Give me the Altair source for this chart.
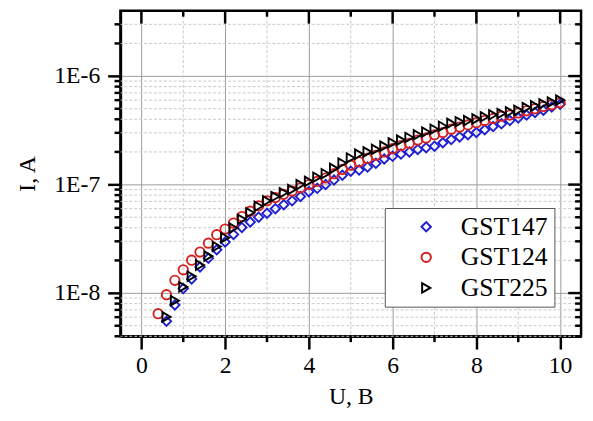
import altair as alt
import pandas as pd

# ---- data ----
u_147 = [0.6, 0.8, 1.0, 1.2, 1.4, 1.6, 1.8, 2.0, 2.2, 2.4, 2.6, 2.8, 3.0, 3.2, 3.4, 3.6, 3.8,
         4.0, 4.2, 4.4, 4.6, 4.8, 5.0, 5.2, 5.4, 5.6, 5.8, 6.0, 6.2, 6.4, 6.6, 6.8, 7.0, 7.2,
         7.4, 7.6, 7.8, 8.0, 8.2, 8.4, 8.6, 8.8, 9.0, 9.2, 9.4, 9.6, 9.8, 10.0]
i_147 = [5.50e-9, 7.76e-9, 1.10e-8, 1.35e-8, 1.74e-8, 2.09e-8, 2.51e-8, 2.95e-8, 3.47e-8,
         4.03e-8, 4.52e-8, 5.01e-8, 5.43e-8, 6.00e-8, 6.53e-8, 7.08e-8, 7.76e-8, 8.61e-8,
         9.23e-8, 1.00e-7, 1.10e-7, 1.22e-7, 1.33e-7, 1.36e-7, 1.45e-7, 1.57e-7, 1.72e-7,
         1.82e-7, 1.91e-7, 2.00e-7, 2.11e-7, 2.19e-7, 2.26e-7, 2.43e-7, 2.60e-7, 2.75e-7,
         2.88e-7, 3.02e-7, 3.20e-7, 3.43e-7, 3.63e-7, 3.89e-7, 4.12e-7, 4.37e-7, 4.62e-7,
         4.84e-7, 5.19e-7, 5.50e-7]

u_124 = [0.4, 0.6, 0.8, 1.0, 1.2, 1.4, 1.6, 1.8, 2.0, 2.2, 2.4, 2.6, 2.8, 3.0, 3.2, 3.4, 3.6,
         3.8, 4.0, 4.2, 4.4, 4.6, 4.8, 5.0, 5.2, 5.4, 5.6, 5.8, 6.0, 6.2, 6.4, 6.6, 6.8, 7.0,
         7.2, 7.4, 7.6, 7.8, 8.0, 8.2, 8.4, 8.6, 8.8, 9.0, 9.2, 9.4, 9.6, 9.8, 10.0]
i_124 = [6.46e-9, 9.66e-9, 1.31e-8, 1.64e-8, 2.01e-8, 2.39e-8, 2.88e-8, 3.45e-8, 3.89e-8,
         4.42e-8, 5.07e-8, 5.69e-8, 6.38e-8, 7.08e-8, 7.59e-8, 8.13e-8, 8.71e-8, 9.33e-8,
         1.00e-7, 1.07e-7, 1.15e-7, 1.26e-7, 1.38e-7, 1.51e-7, 1.62e-7, 1.74e-7, 1.86e-7,
         2.00e-7, 2.14e-7, 2.29e-7, 2.40e-7, 2.57e-7, 2.69e-7, 2.88e-7, 3.02e-7, 3.24e-7,
         3.39e-7, 3.55e-7, 3.72e-7, 3.89e-7, 4.07e-7, 4.27e-7, 4.37e-7, 4.57e-7, 4.79e-7,
         5.01e-7, 5.25e-7, 5.43e-7, 5.68e-7]

u_225 = [0.6, 0.8, 1.0, 1.2, 1.4, 1.6, 1.8, 2.0, 2.2, 2.4, 2.6, 2.8, 3.0, 3.2, 3.4, 3.6, 3.8,
         4.0, 4.2, 4.4, 4.6, 4.8, 5.0, 5.2, 5.4, 5.6, 5.8, 6.0, 6.2, 6.4, 6.6, 6.8, 7.0, 7.2,
         7.4, 7.6, 7.8, 8.0, 8.2, 8.4, 8.6, 8.8, 9.0, 9.2, 9.4, 9.6, 9.8, 10.0]
i_225 = [6.03e-9, 8.51e-9, 1.14e-8, 1.43e-8, 1.81e-8, 2.19e-8, 2.69e-8, 3.24e-8, 3.98e-8,
         4.79e-8, 5.50e-8, 6.31e-8, 7.08e-8, 7.76e-8, 8.41e-8, 9.02e-8, 1.00e-7, 1.07e-7,
         1.17e-7, 1.26e-7, 1.41e-7, 1.58e-7, 1.76e-7, 1.91e-7, 2.00e-7, 2.11e-7, 2.26e-7,
         2.43e-7, 2.57e-7, 2.72e-7, 2.88e-7, 3.05e-7, 3.24e-7, 3.45e-7, 3.67e-7, 3.80e-7,
         3.89e-7, 4.03e-7, 4.22e-7, 4.40e-7, 4.52e-7, 4.68e-7, 4.84e-7, 5.13e-7, 5.31e-7,
         5.56e-7, 5.75e-7, 6.00e-7]

series_names = ["GST147", "GST124", "GST225"]
series_colors = ["#1e1ed2", "#d42020", "#000000"]
series_shapes = ["diamond", "circle", "triangle-right"]

x_major = [0, 2, 4, 6, 8, 10]
x_minor = [1, 3, 5, 7, 9]
y_major = [1e-8, 1e-7, 1e-6]
y_minor = [4e-9, 5e-9, 6e-9, 7e-9, 8e-9, 9e-9,
           2e-8, 3e-8, 4e-8, 5e-8, 6e-8, 7e-8, 8e-8, 9e-8,
           2e-7, 3e-7, 4e-7, 5e-7, 6e-7, 7e-7, 8e-7, 9e-7,
           2e-6, 3e-6]

W, H = 467, 330
FONT = "Liberation Serif"

rows = []
for name, us, iv in [("GST147", u_147, i_147), ("GST124", u_124, i_124), ("GST225", u_225, i_225)]:
    for u, i in zip(us, iv):
        rows.append({"U": u, "I": i, "series": name})
df = pd.DataFrame(rows)

xs = alt.Scale(domain=[-0.5, 10.5], nice=False, zero=False)
ys = alt.Scale(type="log", domain=[4e-9, 4e-6], nice=False)

x_axis = alt.Axis(values=x_major, grid=True, gridColor="#9a9a9a", gridWidth=1,
                  domainColor="black", domainWidth=2.5, tickColor="black", tickWidth=2.5,
                  tickSize=13, labelFont=FONT, labelFontSize=24, labelColor="black",
                  labelPadding=5, titleFont=FONT, titleFontSize=24, titleFontWeight="normal",
                  titleColor="black", titlePadding=7, labelFlush=False)
y_axis = alt.Axis(values=y_major, grid=True, gridColor="#9a9a9a", gridWidth=1,
                  labelExpr="'1E-' + round(-log(datum.value) / LN10)",
                  domainColor="black", domainWidth=2.5, tickColor="black", tickWidth=2.5,
                  tickSize=13, labelFont=FONT, labelFontSize=24, labelColor="black",
                  labelPadding=8, titleFont=FONT, titleFontSize=24, titleFontWeight="normal",
                  titleColor="black", titlePadding=14, labelFlush=False)


def X(field):
    return alt.X(field, scale=xs, axis=x_axis, title="U, B")


def Y(field):
    return alt.Y(field, scale=ys, axis=y_axis, title="I, A")


dx_major = pd.DataFrame({"v": x_major})
dx_minor = pd.DataFrame({"v": x_minor})
dy_major = pd.DataFrame({"v": y_major})
dy_minor = pd.DataFrame({"v": y_minor})

grid_x_minor = alt.Chart(dx_minor).mark_rule(color="#c8c8c8", strokeWidth=1, strokeDash=[3, 2]).encode(
    x=X("v:Q"))
grid_y_minor = alt.Chart(dy_minor).mark_rule(color="#c8c8c8", strokeWidth=1, strokeDash=[3, 2]).encode(
    y=Y("v:Q"))

legend = alt.Legend(title=None, orient="none", legendX=268, legendY=200,
                    fillColor="white", strokeColor="#555555", padding=6,
                    labelFont=FONT, labelFontSize=26, labelColor="black",
                    symbolSize=90, symbolStrokeWidth=2, symbolOffset=23, labelOffset=22,
                    rowPadding=5)

points = alt.Chart(df).mark_point(filled=False, size=90, strokeWidth=1.9, opacity=1).encode(
    x=X("U:Q"),
    y=Y("I:Q"),
    color=alt.Color("series:N", scale=alt.Scale(domain=series_names, range=series_colors), legend=legend),
    shape=alt.Shape("series:N", scale=alt.Scale(domain=series_names, range=series_shapes), legend=legend),
)

tick_style = dict(color="black", strokeWidth=2.5)
bottom_minor = alt.Chart(dx_minor).mark_rule(**tick_style).encode(
    x=X("v:Q"), y=alt.value(H), y2=alt.value(H + 6))
top_major = alt.Chart(dx_major).mark_rule(**tick_style).encode(
    x=X("v:Q"), y=alt.value(0), y2=alt.value(13))
top_minor = alt.Chart(dx_minor).mark_rule(**tick_style).encode(
    x=X("v:Q"), y=alt.value(0), y2=alt.value(6))
left_minor = alt.Chart(dy_minor).mark_rule(**tick_style).encode(
    y=Y("v:Q"), x=alt.value(0), x2=alt.value(-6))
right_major = alt.Chart(dy_major).mark_rule(**tick_style).encode(
    y=Y("v:Q"), x=alt.value(W), x2=alt.value(W - 13))
right_minor = alt.Chart(dy_minor).mark_rule(**tick_style).encode(
    y=Y("v:Q"), x=alt.value(W), x2=alt.value(W - 6))

chart = alt.layer(
    grid_x_minor, grid_y_minor, points,
    bottom_minor, top_major, top_minor, left_minor, right_major, right_minor,
).properties(
    width=W, height=H,
    padding={"left": 114, "top": 0, "right": 4, "bottom": 75},
    autosize=alt.AutoSizeParams(type="none"),
).configure(font=FONT).configure_view(
    stroke="black", strokeWidth=2.5
)

chart.save("out.html", embed_options={"renderer": "svg", "actions": False})
